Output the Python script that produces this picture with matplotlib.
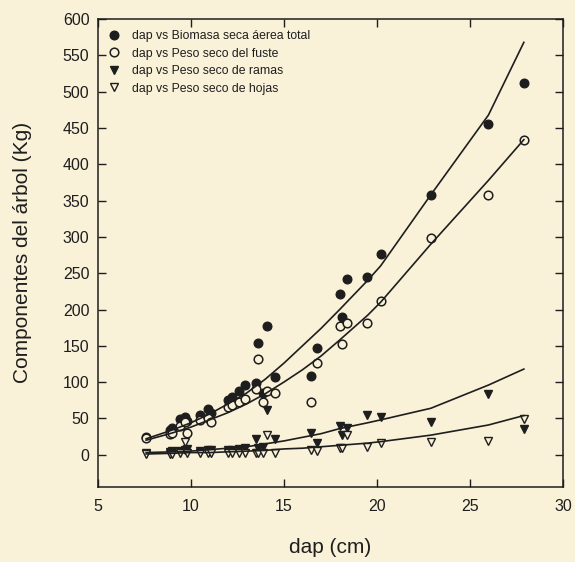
import matplotlib
matplotlib.use("Agg")
import matplotlib.pyplot as plt

# ---- data ----
dap = [7.6, 8.9, 9.0, 9.4, 9.7, 9.8, 10.5, 10.9, 11.1, 12.0, 12.2, 12.6, 12.9, 13.5,
       13.6, 13.9, 14.1, 14.5, 16.45, 16.8, 18.0, 18.1, 18.4, 19.45, 20.2, 22.9, 25.95, 27.9]
biomasa_total = [25, 34, 37, 49, 52, 47, 55, 63, 58, 76, 80, 88, 96, 99,
                 154, 85, 177, 107, 108, 147, 222, 190, 242, 245, 277, 358, 455, 512]
peso_fuste = [23, 28, 30, 40, 45, 30, 48, 50, 45, 66, 68, 73, 77, 90,
              132, 73, 88, 85, 72, 127, 178, 153, 182, 181, 212, 298, 358, 434]
peso_ramas = [2, 4, 5, 5, 6, 8, 5, 6, 7, 6, 7, 8, 9, 22,
              9, 11, 62, 22, 30, 16, 40, 27, 37, 55, 52, 45, 84, 36]
peso_hojas = [1, 1, 1, 2, 18, 2, 2, 2, 3, 2, 2, 3, 3, 3,
              2, 3, 27, 3, 6, 5, 9, 9, 27, 11, 16, 18, 19, 49]

curve_dap = [7.6, 9.0, 10.0, 11.0, 12.0, 13.0, 14.0, 15.0, 16.0, 17.0, 18.0, 19.5, 20.2, 22.9, 26.0, 27.9]
fit_total = [22, 34, 44, 56, 70, 85, 104, 126, 150, 174, 200, 240, 260, 358, 468, 568]
fit_fuste = [20, 30, 38, 48, 58, 70, 84, 100, 117, 136, 158, 192, 210, 290, 378, 434]
fit_ramas = [3, 4, 5, 7, 9, 11, 15, 19, 24, 29, 36, 44, 48, 64, 96, 118]
fit_hojas = [1, 2, 3, 3, 4, 5, 6, 8, 9, 11, 13, 16, 18, 27, 41, 54]

labels = ["dap vs Biomasa seca áerea total", "dap vs Peso seco del fuste",
          "dap vs Peso seco de ramas", "dap vs Peso seco de hojas"]
x_ticks = [5, 10, 15, 20, 25, 30]
y_ticks = list(range(0, 601, 50))

# ---- style ----
bg = "#f9f1d8"
ink = "#1e1e1e"
plt.rcParams["font.family"] = ["Liberation Sans", "DejaVu Sans"]

fig = plt.figure(figsize=(5.75, 5.62), dpi=100, facecolor=bg)
ax = fig.add_axes([0.170, 0.134, 0.809, 0.832])
ax.set_facecolor(bg)

ms = 6.2
ax.plot(dap, biomasa_total, "o", ms=ms, mfc=ink, mec=ink, ls="none", label=labels[0])
ax.plot(dap, peso_fuste, "o", ms=ms, mfc=bg, mec=ink, mew=1.1, ls="none", label=labels[1])
ax.plot(dap, peso_ramas, "v", ms=ms, mfc=ink, mec=ink, ls="none", label=labels[2])
ax.plot(dap, peso_hojas, "v", ms=ms, mfc=bg, mec=ink, mew=1.0, ls="none", label=labels[3])

for fit in (fit_total, fit_fuste, fit_ramas, fit_hojas):
    ax.plot(curve_dap, fit, "-", color=ink, lw=1.2)

ax.set_xlim(5, 30)
ax.set_ylim(-44, 600)
ax.set_xticks(x_ticks)
ax.set_yticks(y_ticks)
ax.tick_params(direction="in", length=6, width=1, colors=ink, labelsize=11.5,
               top=True, right=True, labeltop=False, labelright=False)
ax.tick_params(axis="x", pad=9)
ax.tick_params(axis="y", pad=6)
for s in ax.spines.values():
    s.set_color(ink)
    s.set_linewidth(1.1)

ax.set_xlabel("dap (cm)", fontsize=15, color=ink, labelpad=17)
ax.set_ylabel("Componentes del árbol (Kg)", fontsize=15, color=ink, labelpad=22)

leg = ax.legend(loc="upper left", frameon=False, fontsize=8.8, handletextpad=0.9,
                labelspacing=0.45, borderaxespad=0.3, handlelength=1.2,
                bbox_to_anchor=(0.0, 0.995))
for t in leg.get_texts():
    t.set_color(ink)

fig.savefig("out.png", dpi=100, facecolor=bg)
